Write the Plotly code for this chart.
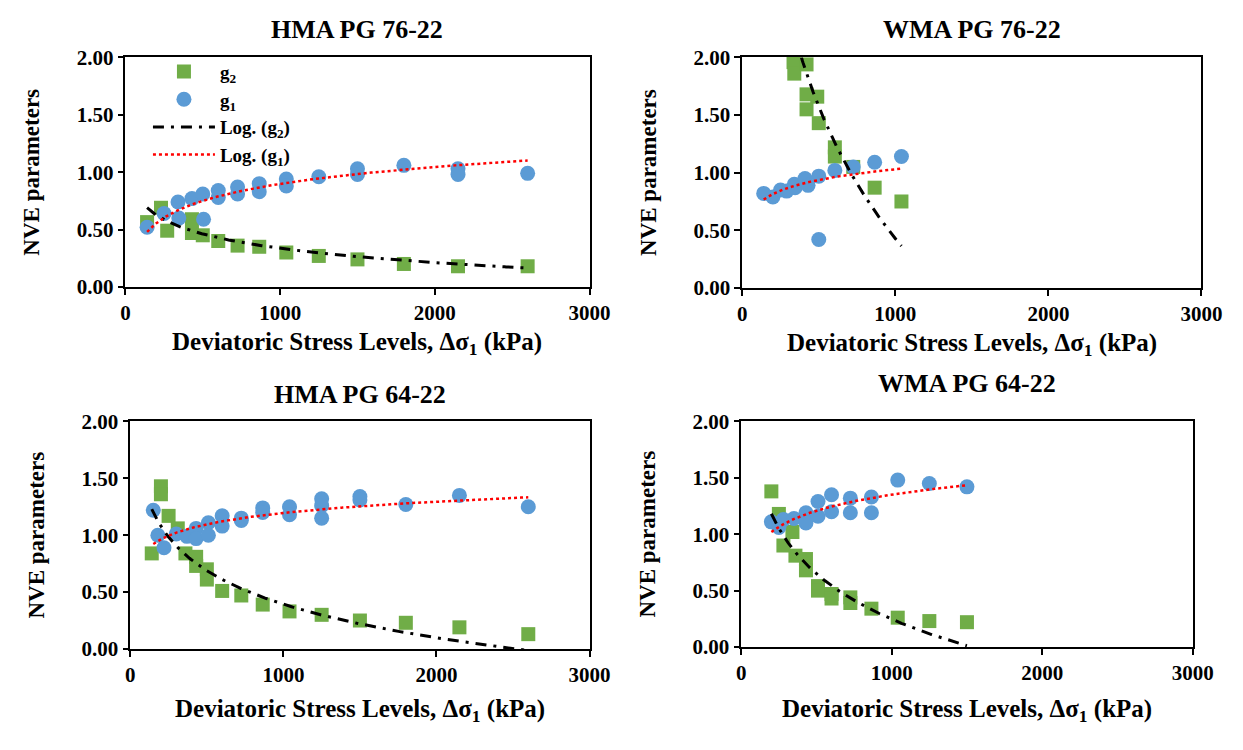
import numpy as np
import plotly.graph_objects as go

W, H = 1243, 750
SERIF = "Liberation Serif"

# ---- HMA PG 76-22 ----
hma76_g2_x = [140, 230, 270, 430, 430, 500, 600, 725, 865, 1040, 1250, 1500, 1800, 2150, 2600]
hma76_g2_y = [0.565, 0.69, 0.49, 0.59, 0.47, 0.45, 0.40, 0.36, 0.35, 0.30, 0.27, 0.24, 0.20, 0.18, 0.18]
hma76_g1_x = [140, 250, 340, 345, 430, 500, 505, 600, 600, 725, 725, 865, 865,
              1040, 1040, 1250, 1500, 1500, 1800, 2150, 2150, 2600]
hma76_g1_y = [0.52, 0.64, 0.74, 0.60, 0.77, 0.81, 0.59, 0.84, 0.78, 0.87, 0.81, 0.90, 0.83,
              0.94, 0.88, 0.96, 1.03, 0.98, 1.06, 1.03, 0.98, 0.99]
hma76_g2_log = [-0.180, 1.580]   # y = a*ln(x) + b
hma76_g1_log = [0.213, -0.573]

# ---- WMA PG 76-22 ----
wma76_g2_x = [335, 340, 420, 420, 490, 420, 500, 605, 605, 725, 865, 1040]
wma76_g2_y = [1.96, 1.86, 1.94, 1.68, 1.66, 1.55, 1.43, 1.22, 1.14, 1.05, 0.87, 0.75]
wma76_g1_x = [140, 200, 250, 290, 340, 345, 410, 430, 500, 500, 605, 725, 865, 1040]
wma76_g1_y = [0.82, 0.79, 0.85, 0.84, 0.90, 0.87, 0.95, 0.89, 0.97, 0.42, 1.02, 1.05, 1.09, 1.14]
wma76_g2_log = [-1.652, 11.84]
wma76_g1_log = [0.1336, 0.107]

# ---- HMA PG 64-22 ----
hma64_g2_x = [140, 200, 200, 250, 310, 360, 430, 430, 500, 500, 600, 725, 865, 1040, 1250, 1500, 1800, 2150, 2600]
hma64_g2_y = [0.84, 1.43, 1.36, 1.17, 1.06, 0.84, 0.81, 0.73, 0.70, 0.61, 0.51, 0.47, 0.39, 0.33, 0.30, 0.25, 0.23, 0.19, 0.13]
hma64_g1_x = [150, 180, 220, 300, 370, 430, 430, 510, 510, 600, 600, 725, 725, 865, 865,
              1040, 1040, 1250, 1250, 1250, 1500, 1500, 1800, 2150, 2600]
hma64_g1_y = [1.22, 1.00, 0.89, 1.01, 0.99, 1.06, 0.97, 1.11, 1.00, 1.17, 1.08, 1.15, 1.13, 1.24, 1.20,
              1.25, 1.18, 1.32, 1.26, 1.15, 1.34, 1.31, 1.27, 1.35, 1.25]
hma64_g2_log = [-0.4256, 3.333]
hma64_g1_log = [0.144, 0.201]

# ---- WMA PG 64-22 ----
wma64_g2_x = [200, 250, 280, 340, 360, 430, 430, 510, 510, 600, 600, 725, 725, 865, 1040, 1250, 1500]
wma64_g2_y = [1.38, 1.18, 0.90, 1.02, 0.81, 0.78, 0.68, 0.54, 0.50, 0.47, 0.43, 0.44, 0.39, 0.34, 0.26, 0.23, 0.22]
wma64_g1_x = [200, 250, 280, 350, 430, 430, 510, 510, 600, 600, 725, 725, 865, 865, 1040, 1250, 1500]
wma64_g1_y = [1.11, 1.06, 1.13, 1.14, 1.19, 1.10, 1.29, 1.16, 1.35, 1.20, 1.32, 1.19, 1.33, 1.19, 1.48, 1.45, 1.42]
wma64_g2_log = [-0.5805, 4.257]
wma64_g1_log = [0.2056, -0.069]

panel_titles = ["HMA PG 76-22", "WMA PG 76-22", "HMA PG 64-22", "WMA PG 64-22"]
x_title = "Deviatoric Stress Levels, Δσ<sub>1</sub> (kPa)"
y_title = "NVE parameters"

panels = [
    (hma76_g2_x, hma76_g2_y, hma76_g1_x, hma76_g1_y, hma76_g2_log, hma76_g1_log),
    (wma76_g2_x, wma76_g2_y, wma76_g1_x, wma76_g1_y, wma76_g2_log, wma76_g1_log),
    (hma64_g2_x, hma64_g2_y, hma64_g1_x, hma64_g1_y, hma64_g2_log, hma64_g1_log),
    (wma64_g2_x, wma64_g2_y, wma64_g1_x, wma64_g1_y, wma64_g2_log, wma64_g1_log),
]

# plot-area boxes in pixels: (left, right, top, bottom)
boxes = [(123, 597, 47, 284), (753, 1222, 47, 285), (128, 597, 423, 658), (752, 1213, 423, 656)]
title_pos = [18, 18, 395, 384]
xtitle_pos = [342, 343, 722, 722]

GREEN = "#70AD47"
BLUE = "#5B9BD5"

fig = go.Figure()


def log_curve(xs, coef):
    xx = np.linspace(min(xs), max(xs), 300)
    return xx, coef[0] * np.log(xx) + coef[1]


for i, (g2x, g2y, g1x, g1y, c2, c1) in enumerate(panels):
    n = "" if i == 0 else str(i + 1)
    xa, ya = "x" + n, "y" + n
    first = i == 0
    fig.add_trace(go.Scatter(x=g2x, y=g2y, mode="markers", name="g<sub>2</sub>",
                             marker=dict(symbol="square", size=14, color=GREEN),
                             cliponaxis=False, showlegend=first, xaxis=xa, yaxis=ya))
    fig.add_trace(go.Scatter(x=g1x, y=g1y, mode="markers", name="g<sub>1</sub>",
                             marker=dict(symbol="circle", size=15, color=BLUE),
                             cliponaxis=False, showlegend=first, xaxis=xa, yaxis=ya))
    tx, ty = log_curve(g2x, c2)
    fig.add_trace(go.Scatter(x=tx, y=ty, mode="lines", name="Log. (g<sub>2</sub>)",
                             line=dict(color="black", width=3, dash="11px,7px,3px,7px"),
                             showlegend=first, xaxis=xa, yaxis=ya))
    tx, ty = log_curve(g1x, c1)
    fig.add_trace(go.Scatter(x=tx, y=ty, mode="lines", name="Log. (g<sub>1</sub>)",
                             line=dict(color="#FF0000", width=2.5, dash="3px,3px"),
                             showlegend=first, xaxis=xa, yaxis=ya))

tick_font = dict(family=SERIF, size=21, color="black", weight="bold")
axis_common = dict(showline=True, linecolor="black", linewidth=1.5, mirror=True,
                   ticks="outside", ticklen=6, tickwidth=1.5, tickcolor="black",
                   showgrid=False, zeroline=False, tickfont=tick_font)

annotations = []
for i, (l, r, t, b) in enumerate(boxes):
    n = "" if i == 0 else str(i + 1)
    fig.layout["xaxis" + n] = dict(domain=[l / W, r / W], range=[0, 3000], dtick=1000, tick0=0,
                                   anchor="y" + n, **axis_common)
    fig.layout["yaxis" + n] = dict(domain=[1 - b / H, 1 - t / H], range=[0, 2], dtick=0.5,
                                   tickformat=".2f", anchor="x" + n, **axis_common)
    cx = (l + r) / 2
    annotations.append(dict(text=panel_titles[i], x=cx / W, y=1 - title_pos[i] / H, xref="paper", yref="paper",
                            showarrow=False, xanchor="center", yanchor="middle",
                            font=dict(family=SERIF, size=26, color="black", weight="bold")))
    annotations.append(dict(text=x_title, x=cx / W, y=1 - xtitle_pos[i] / H, xref="paper", yref="paper",
                            showarrow=False, xanchor="center", yanchor="middle",
                            font=dict(family=SERIF, size=25, color="black", weight="bold")))
    annotations.append(dict(text=y_title, x=(l - 96) / W, y=1 - ((t + b) / 2) / H, xref="paper", yref="paper",
                            showarrow=False, xanchor="center", yanchor="middle", textangle=-90,
                            font=dict(family=SERIF, size=23, color="black", weight="bold")))

fig.update_layout(
    width=W, height=H,
    margin=dict(l=0, r=0, t=0, b=0),
    paper_bgcolor="white", plot_bgcolor="white",
    annotations=annotations,
    legend=dict(x=146 / W, y=1 - 42 / H, xanchor="left", yanchor="top",
                bgcolor="rgba(0,0,0,0)", itemwidth=62, tracegroupgap=0,
                font=dict(family=SERIF, size=19, color="black", weight="bold")),
)

fig.write_html("out.html")
